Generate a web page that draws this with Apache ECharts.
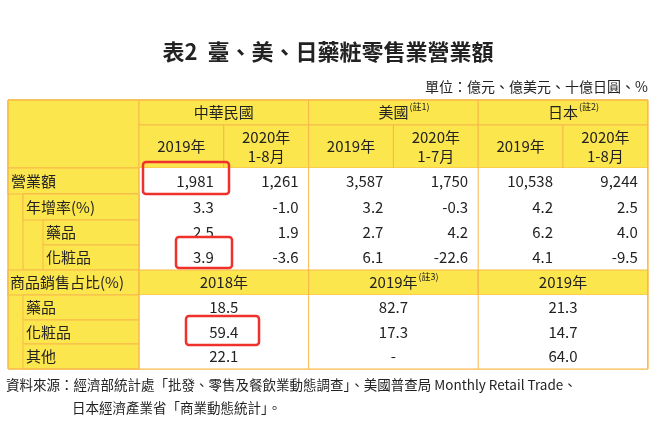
<!DOCTYPE html>
<html><head><meta charset="utf-8">
<script src="https://cdn.jsdelivr.net/npm/echarts@6/dist/echarts.min.js"></script>
<style>html,body{margin:0;background:#fff}#c{width:656px;height:436px}</style>
</head><body><div id="c"></div>
<script>
var countries = ['中華民國', '美國', '日本'];
var countryNotes = ['', '(註1)', '(註2)'];
var periods = ['2019年', '2020年\n1-8月', '2019年', '2020年\n1-7月', '2019年', '2020年\n1-8月'];
var salesRow = ['1,981', '1,261', '3,587', '1,750', '10,538', '9,244'];
var growthRow = ['3.3', '-1.0', '3.2', '-0.3', '4.2', '2.5'];
var drugGrowth = ['2.5', '1.9', '2.7', '4.2', '6.2', '4.0'];
var cosmGrowth = ['3.9', '-3.6', '6.1', '-22.6', '4.1', '-9.5'];
var shareYears = ['2018年', '2019年', '2019年'];
var shareNotes = ['', '(註3)', ''];
var shareLabels = ['藥品', '化粧品', '其他'];
var shareValues = [['18.5', '82.7', '21.3'], ['59.4', '17.3', '14.7'], ['22.1', '-', '64.0']];

var YEL = '#FCE64E', BOR = '#F7B84A', F = '"Noto Sans CJK TC","Noto Sans",sans-serif';
var L = 8, LC = 139, CW = 84.8;
var rowY = [100, 125, 168, 194, 220, 245, 270, 295, 320, 344, 369];
var g = [];
function cell(x1, y1, x2, y2, fill, stroke) {
  g.push({type: 'rect', shape: {x: x1, y: y1, width: x2 - x1, height: y2 - y1},
    style: {fill: fill, stroke: stroke || null, lineWidth: 1}});
}
function txt(s, x, y, align, size, weight) {
  g.push({type: 'text', x: x, y: y, style: {text: s, fill: '#222', font: (weight || '') + ' ' + (size || 14) + 'px ' + F,
    align: align || 'center', verticalAlign: 'middle', lineHeight: 19}});
}
function cx(i) { return LC + CW * i; }
var R = cx(6);
cell(L, rowY[0], R, rowY[10], YEL, BOR);
cell(L, rowY[0], LC, rowY[2], YEL, BOR);
countries.forEach(function (c, i) {
  cell(cx(2 * i), rowY[0], cx(2 * i + 2), rowY[1], YEL, BOR);
  var mid = (cx(2 * i) + cx(2 * i + 2)) / 2;
  txt(c, mid, (rowY[0] + rowY[1]) / 2, 'center', 15);
  if (countryNotes[i]) txt(countryNotes[i], mid + c.length * 7.5 + 1, rowY[0] + 7, 'left', 9);
});
periods.forEach(function (p, i) {
  cell(cx(i), rowY[1], cx(i + 1), rowY[2], YEL, BOR);
  txt(p, (cx(i) + cx(i + 1)) / 2, (rowY[1] + rowY[2]) / 2, 'center', 15);
});
var upper = [['營業額', L, salesRow], ['年增率(%)', 23, growthRow], ['藥品', 43, drugGrowth], ['化粧品', 43, cosmGrowth]];
cell(LC, rowY[2], R, rowY[6], '#fff', null);
upper.forEach(function (r, k) {
  var y1 = rowY[2 + k], y2 = rowY[3 + k];
  cell(r[1], y1, LC, k === 1 ? rowY[6] : y2, YEL, BOR);
  if (k === 1) cell(r[1], y1, LC, y2, YEL, BOR);
  txt(r[0], r[1] + 3, (y1 + y2) / 2, 'left', 15);
  r[2].forEach(function (v, i) { txt(v, cx(i + 1) - 10, (y1 + y2) / 2, 'right', 15); });
});
cell(L, rowY[6], LC, rowY[7], YEL, BOR);
txt('商品銷售占比(%)', L + 2, (rowY[6] + rowY[7]) / 2, 'left', 15);
shareYears.forEach(function (s, i) {
  cell(cx(2 * i), rowY[6], cx(2 * i + 2), rowY[7], YEL, BOR);
  var mid = (cx(2 * i) + cx(2 * i + 2)) / 2;
  txt(s, mid, (rowY[6] + rowY[7]) / 2, 'center', 15);
  if (shareNotes[i]) txt(shareNotes[i], mid + 25, rowY[6] + 7, 'left', 9);
});
cell(LC, rowY[7], R, rowY[10], '#fff', null);
shareLabels.forEach(function (s, k) {
  var y1 = rowY[7 + k], y2 = rowY[8 + k];
  cell(23, y1, LC, y2, YEL, BOR);
  txt(s, 26, (y1 + y2) / 2, 'left', 15);
  shareValues[k].forEach(function (v, i) {
    txt(v, (cx(2 * i) + cx(2 * i + 2)) / 2, (y1 + y2) / 2, 'center', 15);
  });
});
for (var i = 0; i <= 6; i += 2) g.push({type: 'line', shape: {x1: cx(i), y1: rowY[2], x2: cx(i), y2: rowY[10]}, style: {stroke: BOR}});
cell(L, rowY[0], R, rowY[10], null, BOR);
function hl(x1, y1, x2, y2) {
  g.push({type: 'rect', shape: {x: x1, y: y1, width: x2 - x1, height: y2 - y1, r: 3}, style: {fill: null, stroke: '#F0302A', lineWidth: 2.5}});
}
hl(143, 162, 229, 194); hl(176, 237, 232, 268); hl(186, 316, 259, 345);
txt('表2  臺、美、日藥粧零售業營業額', 328, 52, 'center', 22, 'bold');
txt('單位：億元、億美元、十億日圓、%', 648, 87, 'right', 14);
txt('資料來源：經濟部統計處「批發、零售及餐飲業動態調查」、美國普查局 Monthly Retail Trade、', 6, 385, 'left', 13.5);
txt('日本經濟產業省「商業動態統計」。', 72, 408, 'left', 13.5);

var chart = echarts.init(document.getElementById('c'));
chart.setOption({graphic: g});
</script></body></html>
